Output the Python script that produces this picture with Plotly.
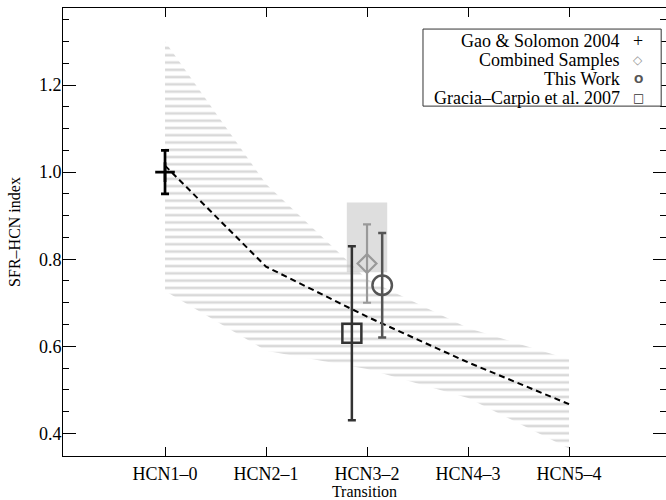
import plotly.graph_objects as go

# ---------------- data ----------------
transitions = ["HCN1\u20130", "HCN2\u20131", "HCN3\u20132", "HCN4\u20133", "HCN5\u20134"]
transition_pos = [1, 2, 3, 4, 5]

# model band (hatched region) and model curve (dashed)
band_upper = [1.30, 0.973, 0.754, 0.642, 0.570]
band_lower = [0.727, 0.590, 0.548, 0.481, 0.365]
model_index = [1.015, 0.783, 0.668, 0.563, 0.467]

# observations
gao_x, gao_y, gao_err = [1.0], [1.00], [0.05]
gracia_x, gracia_y, gracia_err = [2.85], [0.63], [0.20]
combined_x, combined_y, combined_err = [3.0], [0.79], [0.09]
thiswork_x, thiswork_y, thiswork_err = [3.15], [0.74], [0.12]
combined_range_x = [2.8, 3.2]
combined_range_y = [0.77, 0.93]

legend_labels = ["Gao & Solomon 2004", "Combined Samples", "This Work",
                 "Gracia\u2013Carpio et al. 2007"]

FONT = "Liberation Serif, Times New Roman, serif"

fig = go.Figure()

# shaded range of combined samples
fig.add_shape(type="rect", xref="x", yref="y",
              x0=combined_range_x[0], x1=combined_range_x[1],
              y0=combined_range_y[0], y1=combined_range_y[1],
              fillcolor="#dedede", line=dict(width=0), layer="below")

# hatched band
fig.add_trace(go.Scatter(
    x=transition_pos + transition_pos[::-1],
    y=band_upper + band_lower[::-1],
    mode="lines", line=dict(width=0, color="rgba(0,0,0,0)"),
    fill="toself", fillcolor="rgba(0,0,0,0)",
    fillpattern=dict(shape="-", fgcolor="#b4b4b4", bgcolor="rgba(0,0,0,0)",
                     size=7.27, solidity=0.36, fillmode="overlay"),
    hoverinfo="skip", showlegend=False))

# dashed model curve
fig.add_trace(go.Scatter(x=transition_pos, y=model_index, mode="lines",
                         line=dict(color="black", width=2, dash="6px,4px"),
                         showlegend=False))

def point(x, y, err, symbol, size, color, lw, name):
    fig.add_trace(go.Scatter(
        x=x, y=y, mode="markers", name=name,
        marker=dict(symbol=symbol, size=size, color=color,
                    line=dict(color=color, width=lw)),
        error_y=dict(type="data", array=err, color=color,
                     thickness=lw, width=4),
        showlegend=False))

point(gao_x, gao_y, gao_err, "cross-thin", 14, "black", 2.7, legend_labels[0])
point(combined_x, combined_y, combined_err, "diamond-open", 14.5, "#999999", 2.2, legend_labels[1])
point(thiswork_x, thiswork_y, thiswork_err, "circle-open", 19.5, "#555555", 2.5, legend_labels[2])
point(gracia_x, gracia_y, gracia_err, "square-open", 19, "#333333", 2.5, legend_labels[3])

# ---------------- custom legend ----------------
fig.add_shape(type="rect", xref="paper", yref="paper",
              x0=0.597, x1=0.992, y0=0.781, y1=0.953,
              line=dict(color="#333333", width=1), fillcolor="white")
row_y = [0.9263, 0.8839, 0.8415, 0.7991]
sym_text = ["+", "\u25C7", "<b>O</b>", "\u25A1"]
sym_color = ["black", "#999999", "#555555", "#333333"]
sym_font = [FONT, "DejaVu Sans", "DejaVu Sans", "DejaVu Sans"]
sym_size = [18, 12, 11, 12]
for lab, yy, st, sc, sf, ss in zip(legend_labels, row_y, sym_text, sym_color, sym_font, sym_size):
    fig.add_annotation(xref="paper", yref="paper", x=0.9265, y=yy,
                       xanchor="right", yanchor="middle", text=lab,
                       showarrow=False, font=dict(family=FONT, size=18, color="black"))
    fig.add_annotation(xref="paper", yref="paper", x=0.954, y=yy,
                       xanchor="center", yanchor="middle", text=st,
                       showarrow=False, font=dict(family=sf, size=ss, color=sc))

axis_common = dict(showline=True, linecolor="black", linewidth=1, mirror="ticks",
                   ticks="inside", tickcolor="black", tickwidth=1,
                   showgrid=False, zeroline=False,
                   tickfont=dict(family=FONT, size=18, color="black"))

fig.update_xaxes(range=[-0.01, 5.96], tickvals=transition_pos, ticktext=transitions,
                 ticklen=9, ticklabelstandoff=1,
                 title=dict(text="Transition", standoff=10,
                            font=dict(family=FONT, size=16, color="black")),
                 **axis_common)
fig.update_yaxes(range=[0.348, 1.377], tick0=0, dtick=0.2, tickformat=".1f",
                 ticklen=13, ticklabelstandoff=-3,
                 minor=dict(tick0=0, dtick=0.05, ticks="inside", ticklen=6,
                            tickcolor="black", tickwidth=1),
                 title=dict(text="SFR\u2013HCN index", standoff=14,
                            font=dict(family=FONT, size=16, color="black")),
                 **axis_common)

fig.update_layout(width=666, height=500,
                  margin=dict(l=63, r=0, t=8, b=44, autoexpand=False),
                  plot_bgcolor="white", paper_bgcolor="white",
                  font=dict(family=FONT, size=17, color="black"),
                  showlegend=False)

fig.write_html("out.html", config={"displayModeBar": False},
               post_script="document.body.style.margin='0';document.body.style.overflow='hidden';")
